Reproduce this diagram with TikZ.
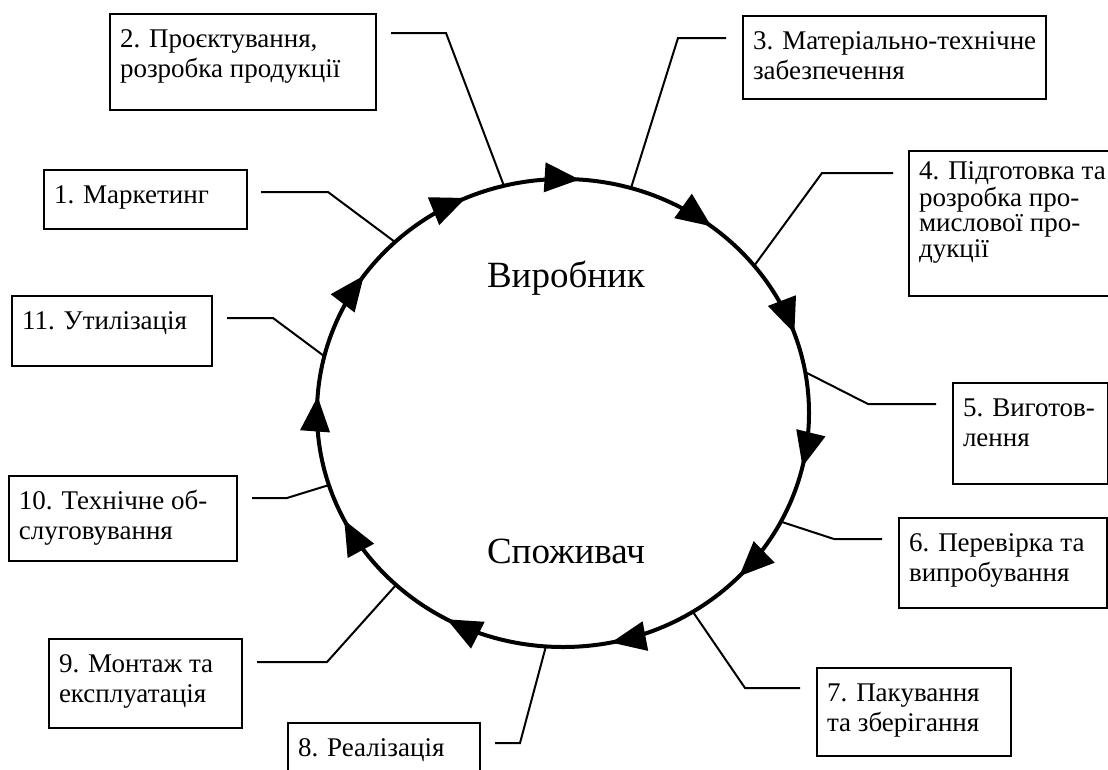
\documentclass[tikz,border=0pt]{standalone}
\usepackage{fontspec}
\setmainfont{Liberation Serif}
\usetikzlibrary{arrows.meta,decorations.markings}
\newcommand{\bx}[6]{\node[box] (#1) at (#2,#3) {\parbox[b][#5pt][t]{#4pt}{\vspace*{12pt}\hspace*{10pt}\begin{tabular}[t]{@{}l@{}}#6\end{tabular}}};}
\begin{document}
\begin{tikzpicture}[x=1pt,y=-1pt,
  box/.style={draw, line width=2pt, inner sep=0pt, anchor=north west, font=\fontsize{27}{30}\selectfont},
  conn/.style={line width=2pt},
  ring/.style={line width=4pt},
  big/.style={anchor=base, inner sep=0pt, font=\fontsize{37}{40}\selectfont},
  arrowat/.style={postaction={decorate,decoration={markings,mark=at position #1 with {\arrow{Triangle[length=35pt,width=29pt]}}}}}]
\fill[white] (0,0) rectangle (1108,769);
\useasboundingbox (0,0) rectangle (1108,769);
\coordinate (O) at (563,413);
\draw[ring, arrowat/.list={0.036,0.121,0.218,0.330,0.426,0.511,0.598,0.684,0.761,0.855,0.946}] (O) ellipse [x radius=246, y radius=234];
\node[big] (prod) at (566,287) {Виробник};
\node[big] (cons) at (566,563) {Споживач};
% boxes
\bx{b1}{43}{169}{203}{59}{1. Маркетинг}
\bx{b2}{109}{13}{266}{96}{2. Проєктування,\\ розробка продукції}
\bx{b3}{742}{15}{303}{83}{3. Матеріально-технічне\\ забезпечення}
\node[box] (b4) at (908,150) {\parbox[b][145pt][t]{205pt}{\vspace*{10pt}\hspace*{10pt}\renewcommand{\arraystretch}{0.86}\begin{tabular}[t]{@{}l@{}}4. Підготовка та\\ розробка про-\\ мислової про-\\ дукції\end{tabular}}};
\bx{b5}{952}{382}{155}{101}{5. Виготов-\\ лення}
\bx{b6}{898}{517}{208}{90}{6. Перевірка та\\ випробування}
\bx{b7}{816}{667}{194}{88}{7. Пакування\\ та зберігання}
\bx{b8}{287}{722}{192}{80}{8. Реалізація}
\bx{b9}{48}{638}{193}{89}{9. Монтаж та\\ експлуатація}
\bx{b10}{8}{475}{228}{85}{10. Технічне об-\\ слуговування}
\bx{b11}{11}{295}{200}{70}{11. Утилізація}
% connector points
\coordinate (s1) at (261,192); \coordinate (k1) at (328,192); \coordinate (e1) at (395,242);
\coordinate (s2) at (391,33);  \coordinate (k2) at (446,33);  \coordinate (e2) at (504,186);
\coordinate (s3) at (726,38);  \coordinate (k3) at (678,38);  \coordinate (e3) at (631,188);
\coordinate (s4) at (893,173); \coordinate (k4) at (822,173); \coordinate (e4) at (754,266);
\coordinate (s5) at (936,404); \coordinate (k5) at (868,404); \coordinate (e5) at (805,372);
\coordinate (s6) at (882,539); \coordinate (k6) at (834,539); \coordinate (e6) at (782,522);
\coordinate (s7) at (800,688); \coordinate (k7) at (745,688); \coordinate (e7) at (693,612);
\coordinate (s8) at (495,743); \coordinate (k8) at (520,743); \coordinate (e8) at (546,646);
\coordinate (s9) at (257,662); \coordinate (k9) at (327,662); \coordinate (e9) at (396,585);
\coordinate (s10) at (252,498); \coordinate (k10) at (287,498); \coordinate (e10) at (329,485);
\coordinate (s11) at (227,318); \coordinate (k11) at (273,318); \coordinate (e11) at (324,356);
\foreach \i in {1,...,11} {\draw[conn] (s\i) -- (k\i) -- (e\i);}
\end{tikzpicture}
\end{document}
